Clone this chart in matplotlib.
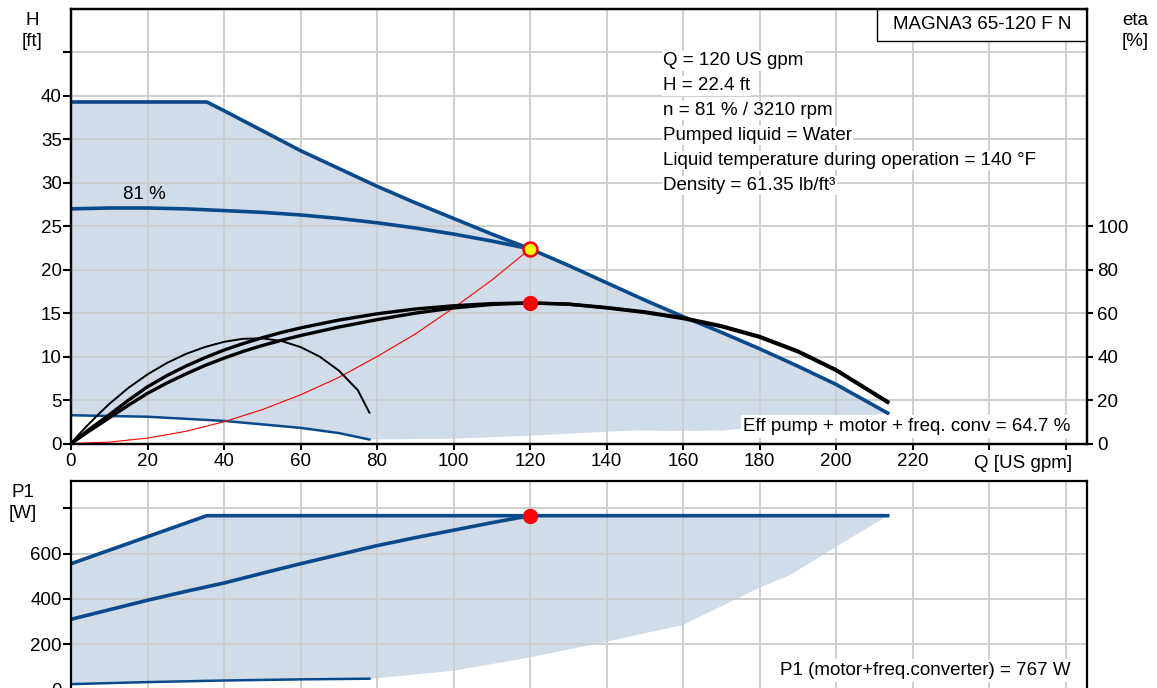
import matplotlib.pyplot as plt
from matplotlib.patches import Rectangle

plt.rcParams["font.family"] = ["Liberation Sans", "DejaVu Sans"]
FS = 13.5
plt.rcParams["font.size"] = FS

# =============================================================================
# DADOS
# =============================================================================

# curva máxima H [ft]
Q_MAX = [0, 35.5, 40, 50, 60, 70, 80, 90, 100, 110, 120, 130, 140, 150, 160, 170, 180, 190, 200, 213.5]
H_MAX = [39.3, 39.3, 38.3, 36.0, 33.7, 31.65, 29.6, 27.7, 25.9, 24.1, 22.4, 20.5, 18.5, 16.5, 14.6, 12.8, 10.9, 8.9, 6.8, 3.5]

# curva de operação (81 %)
Q_OP = [0, 10, 20, 30, 40, 50, 60, 70, 80, 90, 100, 110, 120]
H_OP = [27.0, 27.1, 27.1, 27.0, 26.8, 26.6, 26.3, 25.9, 25.4, 24.8, 24.1, 23.3, 22.4]

# curva mínima
Q_MIN = [0, 20, 40, 60, 70, 78]
H_MIN = [3.25, 3.08, 2.6, 1.8, 1.2, 0.46]

# limite inferior da área
Q_LOW = [78, 100, 120, 140, 147, 160, 170, 190, 213.5]
H_LOW = [0.46, 0.55, 0.9, 1.35, 1.5, 1.45, 1.5, 2.2, 3.5]

# curva do sistema
Q_SYS = [0, 10, 20, 30, 40, 50, 60, 70, 80, 90, 100, 110, 120]
H_SYS = [0, 0.16, 0.62, 1.4, 2.5, 3.9, 5.6, 7.6, 10.0, 12.6, 15.6, 18.8, 22.4]

# rendimentos [%]
Q_ETA = [0, 5, 10, 15, 20, 25, 30, 35, 40, 45, 50, 55, 60, 70, 80, 90, 100, 110, 120,
         130, 140, 150, 160, 170, 180, 190, 200, 213.5]
ETA_A = [0, 6.8, 13.2, 19.9, 26.1, 31.2, 35.6, 39.5, 43.0, 46.0, 48.7, 51.1, 53.2, 56.8,
         59.7, 61.9, 63.4, 64.4, 64.7, 64.2, 62.6, 60.6, 57.9, 54.2, 49.3, 42.6, 34.0, 19.3]
ETA_B = [0, 6.0, 11.8, 17.6, 23.1, 27.8, 32.0, 35.9, 39.3, 42.4, 45.1, 47.5, 49.7, 53.6,
         57.0, 60.0, 62.4, 64.0, 64.7, 64.1, 62.4, 60.3, 57.5, 53.8, 48.9, 42.2, 33.6, 18.9]

Q_ETA_MIN = [0, 2.5, 5, 7.5, 10, 15, 20, 25, 30, 35, 40, 45, 50, 55, 60, 65, 70, 75, 78]
ETA_MIN = [0, 5, 9.6, 14, 18.2, 25.6, 31.8, 37, 41.2, 44.4, 46.8, 48.2, 48.4, 47.2, 44.4,
           40, 33.6, 24.5, 14.2]

# P1 [W]
Q_P_MAX = [0, 35.5, 213.5]
P_MAX = [555, 767, 767]
Q_P_OP = [0, 10, 20, 30, 40, 50, 60, 70, 80, 90, 100, 110, 120]
P_OP = [310, 352, 394, 433, 470, 513, 555, 595, 635, 670, 703, 736, 767]
Q_P_MIN = [0, 20, 40, 60, 78]
P_MIN = [24, 33, 40, 45, 48]
Q_P_LOW = [78, 80, 100, 120, 140, 160, 168, 180, 188, 200, 213.5]
P_LOW = [48, 50, 83, 142, 211, 285, 351, 450, 505, 630, 767]

# ponto de operação
Q_DUTY, H_DUTY, ETA_DUTY, P_DUTY = 120, 22.4, 64.7, 767

X_TICKS = list(range(0, 261, 20))
X_LABELS = [str(v) for v in range(0, 221, 20)] + ["", ""]
H_TICKS = list(range(0, 46, 5))
H_LABELS = [str(v) for v in range(0, 41, 5)] + [""]
ETA_TICKS = list(range(0, 101, 20))
P_TICKS = [0, 200, 400, 600, 800]
P_LABELS = ["0", "200", "400", "600", ""]

INFO = ["Q = 120 US gpm", "H = 22.4 ft", "n = 81 % / 3210 rpm",
        "Pumped liquid = Water", "Liquid temperature during operation = 140 °F",
        "Density = 61.35 lb/ft³"]

# =============================================================================

BLUE = "#0b4a8a"
FILL = "#d0dce8"
GRID = "#cccccc"
W, H = 1157, 688


def px_box(left, top, right, bottom):
    return [left / W, 1 - bottom / H, (right - left) / W, (bottom - top) / H]


def style_axes(ax):
    for s in ax.spines.values():
        s.set_linewidth(1.6)
    ax.grid(True, color=GRID, lw=1.3)
    ax.set_axisbelow(True)
    ax.set_xlim(0, 265.6)
    ax.set_xticks(X_TICKS)
    ax.tick_params(axis="y", direction="out", length=5.5, width=1.5, pad=1, labelsize=FS)
    ax.tick_params(axis="x", direction="out", length=4.5, width=1.5, pad=2.5, labelsize=FS)


fig = plt.figure(figsize=(W / 100, H / 100), dpi=100)

# ---------------- painel H ----------------
ax = fig.add_axes(px_box(71, 9, 1087, 443.5))
style_axes(ax)
ax.set_ylim(0, 50)
ax.set_yticks(H_TICKS)
ax.set_yticklabels(H_LABELS)
ax.set_xticklabels(X_LABELS)

ax.fill(Q_MAX + Q_LOW[::-1] + Q_MIN[::-1], H_MAX + H_LOW[::-1] + H_MIN[::-1],
        color=FILL, lw=0, zorder=0.2)
ax.plot(Q_MAX, H_MAX, color=BLUE, lw=2.6)
ax.plot(Q_OP, H_OP, color=BLUE, lw=2.6)
ax.plot(Q_MIN, H_MIN, color=BLUE, lw=1.8)
ax.plot(Q_SYS, H_SYS, color="red", lw=0.8)
ax.plot([Q_DUTY], [H_DUTY], "o", ms=10, mfc="yellow", mec="red", mew=1.8, zorder=6)
ax.text(19.3, 28.7, "81 %", ha="center", va="center")

ax.text(0.937, -0.045, "Q [US gpm]", transform=ax.transAxes, ha="center", va="center")

for i, line in enumerate(INFO):
    ax.text(0.5827, 0.881 - i * 0.0575, line, transform=ax.transAxes, ha="left",
            va="center", zorder=4, bbox=dict(fc="white", ec="none", pad=1))

ax.add_patch(Rectangle((0.7933, 0.9264), 0.2067, 0.0736, transform=ax.transAxes,
                       fc="white", ec="black", lw=1.0, zorder=4))
ax.text(0.8967, 0.9632, "MAGNA3 65-120 F N", transform=ax.transAxes,
        ha="center", va="center", zorder=5)
ax.text(0.984, 0.0387, "Eff pump + motor + freq. conv = 64.7 %", transform=ax.transAxes,
        ha="right", va="center", zorder=4, bbox=dict(fc="white", ec="none", pad=2))

ax2 = ax.twinx()
ax2.set_ylim(0, 200)
ax2.set_yticks(ETA_TICKS)
ax2.tick_params(axis="y", direction="out", length=4.5, width=1.5, pad=3, labelsize=FS)
for s in ax2.spines.values():
    s.set_linewidth(1.6)
ax2.plot(Q_ETA, ETA_A, color="black", lw=2.4)
ax2.plot(Q_ETA, ETA_B, color="black", lw=2.4)
ax2.plot(Q_ETA_MIN, ETA_MIN, color="black", lw=1.4)
ax2.plot([Q_DUTY], [ETA_DUTY], "o", ms=10, color="red", zorder=6)

# ---------------- painel P1 ----------------
axp = fig.add_axes(px_box(71, 481, 1087, 700))
style_axes(axp)
axp.set_ylim(-46, 920)
axp.set_yticks(P_TICKS)
axp.set_yticklabels(P_LABELS)
axp.tick_params(axis="x", bottom=False, labelbottom=False)

axp.fill(Q_P_MAX + Q_P_LOW[::-1] + Q_P_MIN[::-1], P_MAX + P_LOW[::-1] + P_MIN[::-1],
         color=FILL, lw=0, zorder=0.2)
axp.plot(Q_P_MAX, P_MAX, color=BLUE, lw=2.6)
axp.plot(Q_P_OP, P_OP, color=BLUE, lw=2.6)
axp.plot(Q_P_MIN, P_MIN, color=BLUE, lw=1.8)
axp.plot([Q_DUTY], [P_DUTY], "o", ms=10, color="red", zorder=6)
axp.text(0.984, 0.134, "P1 (motor+freq.converter) = 767 W", transform=axp.transAxes,
         ha="right", va="center", zorder=4, bbox=dict(fc="white", ec="none", pad=2))

# rótulos dos eixos
fig.text(32 / W, 1 - 31 / H, "H\n[ft]", ha="center", va="center", linespacing=1.25)
fig.text(1135 / W, 1 - 31 / H, "eta\n[%]", ha="center", va="center", linespacing=1.25)
fig.text(23 / W, 1 - 503 / H, "P1\n[W]", ha="center", va="center", linespacing=1.25)

fig.savefig("out.png", dpi=100)
